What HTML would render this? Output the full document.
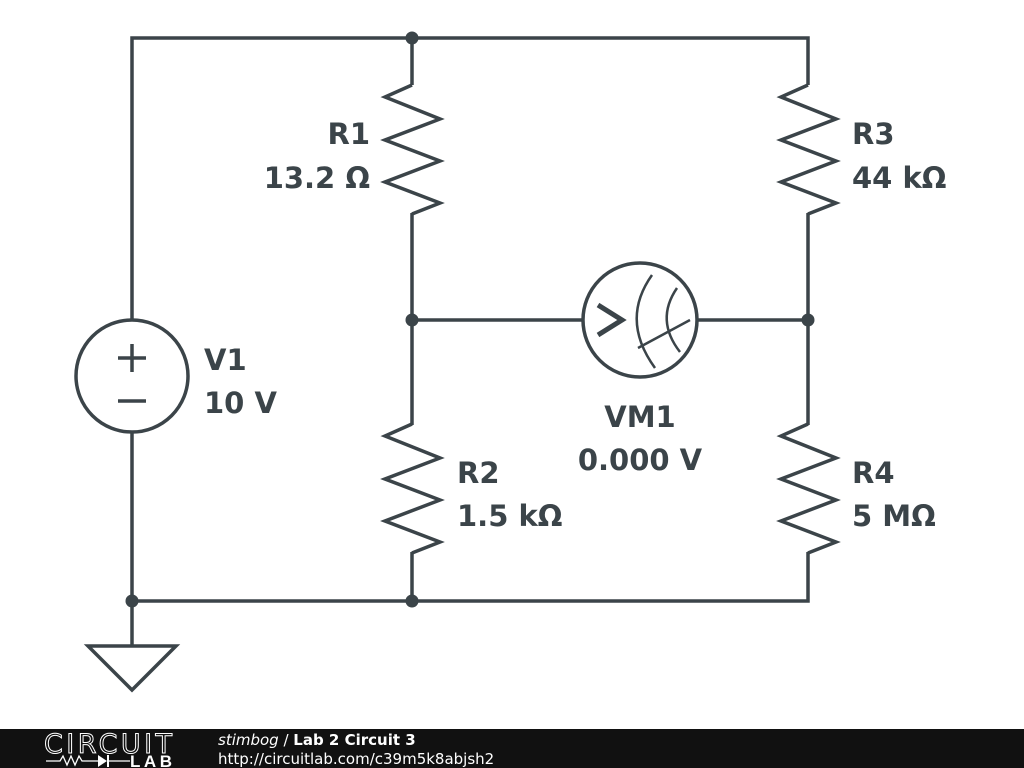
<!DOCTYPE html>
<html><head><style>
html,body{margin:0;padding:0;background:#fff;width:1024px;height:768px;overflow:hidden}
</style></head><body>
<svg width="1024" height="768" xmlns="http://www.w3.org/2000/svg" style="position:absolute;left:0;top:0">
<rect width="1024" height="768" fill="#fff"/>
<g stroke="#3b4449" stroke-width="3.5" fill="none" stroke-linejoin="miter">
<polyline points="132,320 132,38 808,38 808,85"/>
<line x1="412" y1="38" x2="412" y2="85"/>
<line x1="412" y1="213" x2="412" y2="425"/>
<line x1="808" y1="213" x2="808" y2="425"/>
<line x1="412" y1="320" x2="583" y2="320"/>
<line x1="697" y1="320" x2="808" y2="320"/>
<polyline points="132,432 132,601 808,601 808,552"/>
<line x1="412" y1="552" x2="412" y2="601"/>
<line x1="132" y1="601" x2="132" y2="645"/>
<polygon points="88,646 176,646 132,690"/>
<polyline points="412,85 385,97 440,119 385,140 440,161 385,182 440,203 412,214"/>
<polyline points="808,85 781,97 836,119 781,140 836,161 781,182 836,203 808,214"/>
<polyline points="412,424 385,436 440,458 385,479 440,500 385,521 440,542 412,553"/>
<polyline points="808,424 781,436 836,458 781,479 836,500 781,521 836,542 808,553"/>
<circle cx="132" cy="376" r="56"/>
<line x1="118" y1="358" x2="146" y2="358"/><line x1="132" y1="344" x2="132" y2="372"/>
<line x1="118" y1="401" x2="146" y2="401"/>
<circle cx="640" cy="320" r="57"/>
<path d="M652,275 Q620,320 655,368" stroke-width="2.5"/>
<path d="M677,288 Q655,320 680,352" stroke-width="2.5"/>
<line x1="638" y1="348" x2="690" y2="320" stroke-width="2.5"/>
<polyline points="598,305 622,320 598,335" stroke-width="5"/>
</g>
<g fill="#3b4449">
<circle cx="412" cy="38" r="6.5"/><circle cx="412" cy="320" r="6.5"/><circle cx="808" cy="320" r="6.5"/>
<circle cx="132" cy="601" r="6.5"/><circle cx="412" cy="601" r="6.5"/>
</g>
<g font-family="DejaVu Sans, sans-serif" font-weight="bold" font-size="29" fill="#3b4449">
<text x="370" y="144" text-anchor="end">R1</text>
<text x="370" y="188" text-anchor="end">13.2 Ω</text>
<text x="852" y="144">R3</text>
<text x="852" y="188">44 kΩ</text>
<text x="204" y="370">V1</text>
<text x="204" y="413">10 V</text>
<text x="640" y="427" text-anchor="middle">VM1</text>
<text x="640" y="470" text-anchor="middle">0.000 V</text>
<text x="457" y="483">R2</text>
<text x="457" y="526">1.5 kΩ</text>
<text x="852" y="483">R4</text>
<text x="852" y="526">5 MΩ</text>
</g>
<rect x="0" y="729" width="1024" height="39" fill="#111"/>
<text x="44" y="753" font-family="DejaVu Sans, sans-serif" font-size="27" fill="none" stroke="#fff" stroke-width="1" textLength="128">CIRCUIT</text>
<polyline points="46,761 60,761 63,756 67,765 71,756 75,765 79,756 82,761 98,761" stroke="#fff" stroke-width="1.3" fill="none"/>
<polygon points="98,755 98,767 107,761" fill="#fff"/><line x1="108" y1="755" x2="108" y2="767" stroke="#fff" stroke-width="2"/>
<line x1="108" y1="761" x2="130" y2="761" stroke="#fff" stroke-width="1.3"/>
<text x="130" y="767" font-family="Liberation Sans, sans-serif" font-weight="bold" font-size="17" fill="#fff" textLength="42">LAB</text>
<text x="218" y="745" font-family="DejaVu Sans, sans-serif" font-size="15" fill="#fff"><tspan font-style="italic">stimbog</tspan> / <tspan font-weight="bold">Lab 2 Circuit 3</tspan></text>
<text x="218" y="764" font-family="DejaVu Sans, sans-serif" font-size="15" fill="#fff">http://circuitlab.com/c39m5k8abjsh2</text>
</svg>
</body></html>
